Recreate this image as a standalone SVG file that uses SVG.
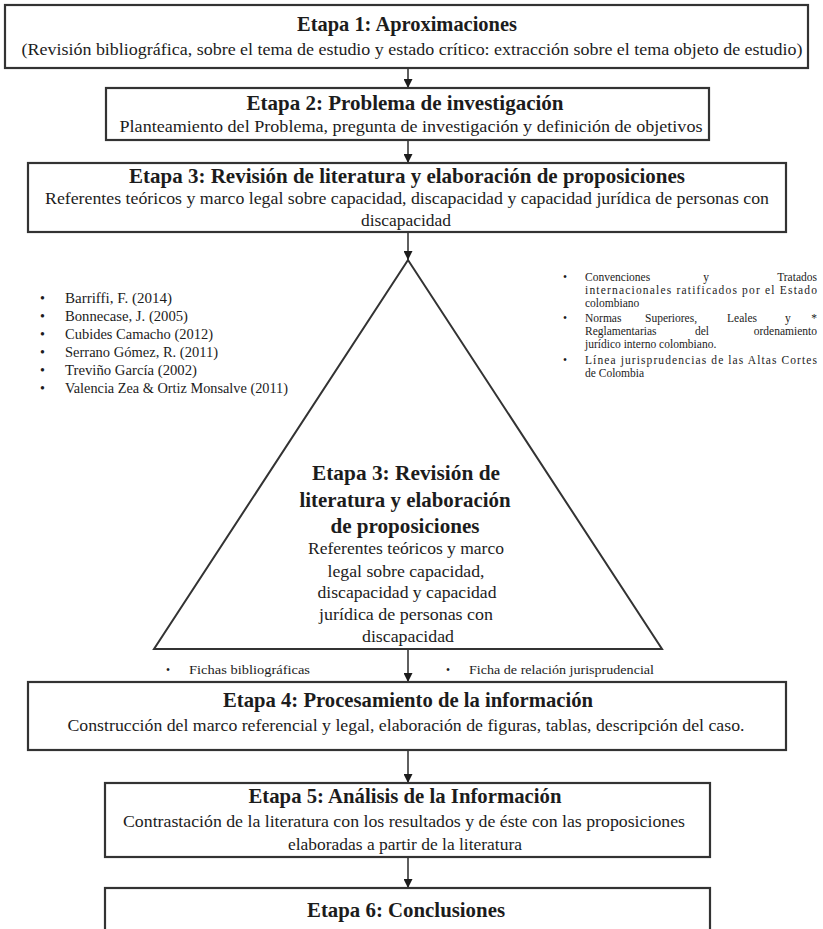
<svg xmlns="http://www.w3.org/2000/svg" width="823" height="929" viewBox="0 0 823 929">
<style>
text{font-family:"Liberation Serif","Times New Roman",serif;fill:#1c1c1c}
.t{font-weight:bold;font-size:22px;text-anchor:middle}
.s{font-size:17.5px;text-anchor:middle}
.tt{font-weight:bold;font-size:21px;text-anchor:middle}
.ts{font-size:17px;text-anchor:middle}
.l{font-size:14px}
.r{font-size:11.5px}
.box{fill:#fff;stroke:#333;stroke-width:2.2}
.c{stroke:#2a2a2a;stroke-width:1.5;fill:none}
</style>
<defs>
<marker id="ah" viewBox="0 0 10 10" refX="10" refY="5" markerWidth="9" markerHeight="9" markerUnits="userSpaceOnUse" orient="auto">
<path d="M0,0 L10,5 L0,10 z" fill="#1c1c1c"/>
</marker>
</defs>
<rect width="823" height="929" fill="#fff"/>

<g id="connectors">
<line class="c" x1="408" y1="69" x2="408" y2="88" marker-end="url(#ah)"/>
<line class="c" x1="408" y1="140" x2="408" y2="163" marker-end="url(#ah)"/>
<line class="c" x1="408" y1="232" x2="408" y2="260" marker-end="url(#ah)"/>
<line class="c" x1="408" y1="649" x2="408" y2="682" marker-end="url(#ah)"/>
<line class="c" x1="408" y1="750" x2="408" y2="783" marker-end="url(#ah)"/>
<line class="c" x1="408" y1="857" x2="408" y2="888" marker-end="url(#ah)"/>
</g>

<g id="etapa1">
<rect class="box" x="5" y="5" width="803" height="63"/>
<text class="t" x="407" y="31" textLength="220" lengthAdjust="spacingAndGlyphs">Etapa 1: Aproximaciones</text>
<text class="s" x="412" y="55" textLength="781" lengthAdjust="spacingAndGlyphs">(Revisión bibliográfica,  sobre el tema  de estudio y estado crítico: extracción  sobre el tema objeto de estudio)</text>
</g>

<g id="etapa2">
<rect class="box" x="106" y="88" width="603" height="52"/>
<text class="t" x="405" y="110" textLength="317" lengthAdjust="spacingAndGlyphs">Etapa 2: Problema  de investigación</text>
<text class="s" x="411" y="132" textLength="583" lengthAdjust="spacingAndGlyphs">Planteamiento  del Problema,  pregunta de investigación  y definición  de objetivos</text>
</g>

<g id="etapa3">
<rect class="box" x="28" y="163" width="758" height="69"/>
<text class="t" x="407" y="183" textLength="556" lengthAdjust="spacingAndGlyphs">Etapa 3: Revisión de literatura  y elaboración  de proposiciones</text>
<text class="s" x="407" y="204" textLength="724" lengthAdjust="spacingAndGlyphs">Referentes teóricos y marco  legal sobre capacidad, discapacidad y capacidad jurídica  de personas con</text>
<text class="s" x="406" y="226" textLength="90" lengthAdjust="spacingAndGlyphs">discapacidad</text>
</g>

<g id="triangulo">
<polygon points="408,260 154,649 662,649" fill="#fff" stroke="#333" stroke-width="2"/>
<text class="tt" x="406" y="480" textLength="188" lengthAdjust="spacingAndGlyphs">Etapa 3: Revisión de</text>
<text class="tt" x="405" y="507" textLength="211" lengthAdjust="spacingAndGlyphs">literatura  y elaboración</text>
<text class="tt" x="405" y="533" textLength="149" lengthAdjust="spacingAndGlyphs">de proposiciones</text>
<text class="ts" x="406" y="554" textLength="196" lengthAdjust="spacingAndGlyphs">Referentes teóricos y marco</text>
<text class="ts" x="406" y="577" textLength="157" lengthAdjust="spacingAndGlyphs">legal sobre capacidad,</text>
<text class="ts" x="407" y="598" textLength="179" lengthAdjust="spacingAndGlyphs">discapacidad y capacidad</text>
<text class="ts" x="406" y="620" textLength="174" lengthAdjust="spacingAndGlyphs">jurídica  de personas con</text>
<text class="ts" x="408" y="642" textLength="92" lengthAdjust="spacingAndGlyphs">discapacidad</text>
</g>

<g id="autores">
<text class="l" x="40" y="303">•</text><text class="l" x="65" y="303" textLength="107" lengthAdjust="spacingAndGlyphs">Barriffi, F. (2014)</text>
<text class="l" x="40" y="321">•</text><text class="l" x="65" y="321" textLength="123" lengthAdjust="spacingAndGlyphs">Bonnecase, J. (2005)</text>
<text class="l" x="40" y="339">•</text><text class="l" x="65" y="339" textLength="148" lengthAdjust="spacingAndGlyphs">Cubides  Camacho (2012)</text>
<text class="l" x="40" y="357">•</text><text class="l" x="65" y="357" textLength="153" lengthAdjust="spacingAndGlyphs">Serrano Gómez, R. (2011)</text>
<text class="l" x="40" y="375">•</text><text class="l" x="65" y="375" textLength="132" lengthAdjust="spacingAndGlyphs">Treviño García (2002)</text>
<text class="l" x="40" y="393">•</text><text class="l" x="65" y="393" textLength="223" lengthAdjust="spacingAndGlyphs">Valencia Zea &amp; Ortiz Monsalve (2011)</text>
</g>

<g id="normas">
<text class="r" x="563" y="281">•</text>
<text class="r" x="585" y="281">Convenciones</text>
<text class="r" x="706" y="281" text-anchor="middle">y</text>
<text class="r" x="817" y="281" text-anchor="end">Tratados</text>
<text class="r" x="585" y="294" textLength="232" lengthAdjust="spacing">internacionales ratificados por el Estado</text>
<text class="r" x="585" y="307">colombiano</text>
<text class="r" x="563" y="322">•</text>
<text class="r" x="585" y="322">Normas</text>
<text class="r" x="645" y="322">Superiores,</text>
<text class="r" x="727" y="322">Leales</text>
<text class="r" x="785" y="322">y</text>
<text class="r" x="817" y="322" text-anchor="end">*</text>
<text class="r" x="585" y="335">Reglamentarias</text>
<text class="r" x="695" y="335">del</text>
<text class="r" x="817" y="335" text-anchor="end">ordenamiento</text>
<text class="r" x="585" y="348">jurídico interno colombiano.</text>
<text class="r" x="563" y="364">•</text>
<text class="r" x="585" y="364" textLength="232" lengthAdjust="spacing">Línea jurisprudencias de las Altas Cortes</text>
<text class="r" x="585" y="377">de Colombia</text>
</g>

<g id="fichas">
<text class="r" x="166" y="674">•</text>
<text class="r" x="189" y="674" textLength="121" lengthAdjust="spacingAndGlyphs">Fichas bibliográficas</text>
<text class="r" x="446" y="674">•</text>
<text class="r" x="469" y="674" textLength="185" lengthAdjust="spacingAndGlyphs">Ficha de relación jurisprudencial</text>
</g>

<g id="etapa4">
<rect class="box" x="28" y="682" width="758" height="68"/>
<text class="t" x="408" y="707" textLength="370" lengthAdjust="spacingAndGlyphs">Etapa 4: Procesamiento  de la información</text>
<text class="s" x="406" y="731" textLength="677" lengthAdjust="spacingAndGlyphs">Construcción del marco  referencial  y legal, elaboración de figuras, tablas, descripción del caso.</text>
</g>

<g id="etapa5">
<rect class="box" x="105" y="783" width="605" height="74"/>
<text class="t" x="405" y="803" textLength="313" lengthAdjust="spacingAndGlyphs">Etapa 5: Análisis de la Información</text>
<text class="s" x="404" y="827" textLength="562" lengthAdjust="spacingAndGlyphs">Contrastación de la literatura  con los resultados y de éste con las proposiciones</text>
<text class="s" x="405" y="850" textLength="234" lengthAdjust="spacingAndGlyphs">elaboradas a partir de la literatura</text>
</g>

<g id="etapa6">
<rect class="box" x="105" y="888" width="605" height="60"/>
<text class="t" x="406" y="917" textLength="198" lengthAdjust="spacingAndGlyphs">Etapa 6: Conclusiones</text>
</g>
</svg>
